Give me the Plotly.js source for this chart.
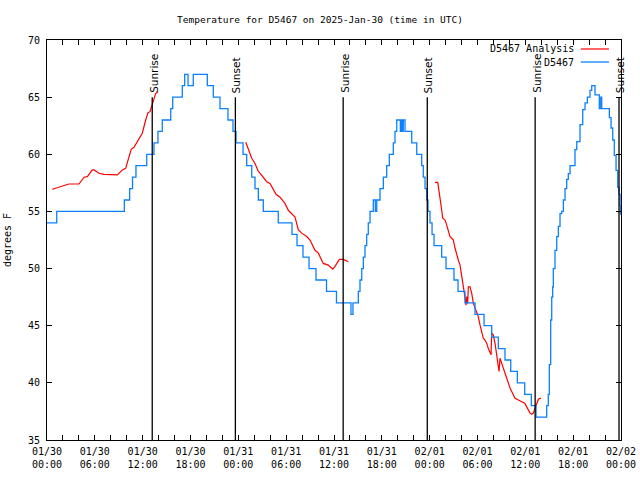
<!DOCTYPE html>
<html>
<head>
<meta charset="utf-8">
<script src="https://cdn.plot.ly/plotly-3.0.1.min.js"></script>
<style>html,body{margin:0;padding:0;background:#fff;}#chart{width:640px;height:480px;}</style>
</head>
<body>
<div id="chart"></div>
<script>
// Hours after 2025-01-30 00:00 UTC
const obsHours = [0,1.22,9.70,10.37,10.73,11.16,12.51,13.42,13.92,14.46,15.52,15.77,16.97,17.27,17.69,18.35,20.11,20.86,21.70,22.70,23.33,23.71,24.59,25.05,25.68,26.09,26.51,27.13,29.01,30.73,31.36,32.11,32.87,33.74,35.06,36.31,38.13,38.38,39.05,39.26,39.48,39.68,39.89,40.10,40.30,40.52,40.93,41.18,41.36,41.77,42.19,42.61,42.94,43.44,43.65,43.87,44.32,44.49,44.62,44.69,44.91,45.75,46.38,47.00,47.20,47.42,47.63,47.79,48.04,48.30,48.55,49.51,50.05,51.05,51.56,52.43,53.69,54.82,55.78,56.61,57.45,58.17,59.00,59.92,60.75,61.34,62.68,62.88,63.01,63.18,63.31,63.43,63.51,63.72,63.94,64.14,64.35,64.56,64.77,64.98,65.19,65.39,65.61,66.23,66.45,66.86,67.20,67.49,67.78,68.11,68.33,68.74,69.28,69.46,69.58,70.54,70.75,70.96,71.16,71.38,71.59,71.75,71.88,71.94];
const obsTemps = [54,55,56,57,58,59,60,61,62,63,64,65,66,67,66,67,66,65,64,63,62,61,60,59,58,57,56,55,54,53,52,51,50,49,48,47,46,47,48,49,50,51,52,53,54,55,56,55,56,57,58,59,60,61,62,63,62,63,62,63,62,61,60,59,58,57,56,55,54,53,52,51,50,49,48,47,46,45,44,43,42,41,40,39,38,37,38,39,41.6,45.5,47.5,48.4,50,51.6,52.8,53.7,54.8,55,56,57,57.8,58.3,59,60.4,61.1,62.6,63.9,64.5,65,65.6,66,65.2,64,65,64,63.2,62.3,61.25,59.9,58.6,57.1,56.5,55.5,54.7];

const anaHours1 = [0.66,1.29,1.72,2.35,2.76,4.01,4.64,5.06,5.68,5.90,6.52,7.15,8.19,8.82,9.45,9.87,10.29,10.57,10.91,11.54,11.95,12.38,12.67,12.92,13.33,13.64,13.92];
const anaTemps1 = [56.94,57.08,57.17,57.31,57.4,57.4,57.99,58.04,58.63,58.63,58.34,58.25,58.19,58.19,58.63,58.77,59.79,60.43,60.61,61.4,61.84,63.0,63.64,63.73,64.75,65.33,65.48];
const anaHours2 = [24.93,25.46,25.68,26.09,26.51,26.72,27.13,27.56,27.97,28.39,28.73,29.23,29.85,30.27,30.70,31.11,31.52,31.95,32.58,32.99,33.62,34.03,34.66,35.29,35.84,36.13,36.67,37.17,37.80];
const anaTemps2 = [61.05,60.1,59.65,59.2,58.5,58.35,58.0,57.6,57.45,56.9,56.5,56.25,55.7,55.1,54.8,54.5,53.4,53.1,52.8,52.5,51.6,51.35,50.45,50.3,49.95,50.2,50.8,50.8,50.6];
const anaHours3 = [48.67,49.01,49.09,49.30,49.51,49.64,49.93,50.14,50.34,50.55,50.77,50.97,51.18,51.39,51.59,51.81,52.02,52.22,52.35,52.56,52.65,52.77,52.85,53.06,53.27,53.48,53.69,53.90,54.10,54.32,54.53,54.73,54.94,55.16,55.36,55.57,55.70,55.78,55.98,56.20,56.32,56.49,56.61,56.70,56.82,57.04,57.24,57.45,57.67,57.87,58.08,58.29,58.49,58.71,59.12,59.55,59.96,60.17,60.37,60.59,60.80,61.00,61.22,61.43,61.63,61.84,61.97];
const anaTemps3 = [57.55,57.55,57.2,56.3,55.1,54.4,54.25,53.8,53.2,52.8,52.65,52.5,51.8,51.2,50.75,50.3,49.45,48.7,47.85,46.8,47.55,46.95,48.4,48.4,47.85,46.95,46.5,46.1,45.8,45.05,44.5,43.9,43.75,43.45,43.0,42.7,42.45,44.35,44.2,43.45,42.9,42.3,41.55,41.0,42.15,41.7,41.1,40.7,40.25,39.95,39.55,39.25,38.95,38.65,38.5,38.35,38.2,37.9,37.6,37.35,37.25,37.35,37.8,38.2,38.55,38.65,38.65];

const sunEventHours = [13.2, 23.63, 37.15, 47.7, 61.23, 71.75];
const sunEventLabels = ["Sunrise","Sunset","Sunrise","Sunset","Sunrise","Sunset"];

const tickLabels = ["01/30<br>00:00","01/30<br>06:00","01/30<br>12:00","01/30<br>18:00","01/31<br>00:00","01/31<br>06:00","01/31<br>12:00","01/31<br>18:00","02/01<br>00:00","02/01<br>06:00","02/01<br>12:00","02/01<br>18:00","02/02<br>00:00"];

const base = Date.UTC(2025, 0, 30, 0, 0, 0);
const H = 3600000;
const toT = h => (h === null ? null : base + h * H);

const anaHours = anaHours1.concat([null], anaHours2, [null], anaHours3);
const anaTemps = anaTemps1.concat([null], anaTemps2, [null], anaTemps3);

const mono = "DejaVu Sans Mono, Liberation Mono, monospace";

const tickvals = [], ticktext = [];
for (let h = 0; h <= 72; h += 2) {
  tickvals.push(toT(h));
  ticktext.push(h % 6 === 0 ? tickLabels[h / 6] : "");
}

const traces = [
  {x: anaHours.map(toT), y: anaTemps, type: "scatter", mode: "lines", name: "D5467 Analysis",
   line: {color: "#ff0000", width: 1.2}, connectgaps: false, showlegend: false},
  {x: obsHours.map(toT), y: obsTemps, type: "scatter", mode: "lines", name: "D5467",
   line: {color: "#0a80ff", width: 1.3, shape: "hv"}, showlegend: false}
];

const shapes = sunEventHours.map(h => ({
  type: "line", xref: "x", yref: "y", x0: toT(h), x1: toT(h), y0: 35, y1: 65,
  line: {color: "#000", width: 1.3}
}));
// legend samples
shapes.push({type: "line", xref: "paper", yref: "paper", x0: 0.930, x1: 0.979, y0: 0.9775, y1: 0.9775, line: {color: "#ff0000", width: 1.2}});
shapes.push({type: "line", xref: "paper", yref: "paper", x0: 0.930, x1: 0.979, y0: 0.945, y1: 0.945, line: {color: "#0a80ff", width: 1.3}});

const annotations = sunEventHours.map((h, i) => ({
  x: toT(h), y: 65, xref: "x", yref: "y", text: sunEventLabels[i], textangle: -90,
  showarrow: false, xanchor: "center", yanchor: "bottom", yshift: 2, xshift: 1,
  font: {family: "DejaVu Sans, sans-serif", size: 10.5, color: "#000"}
}));
annotations.push({x: 0.921, y: 0.9775, xref: "paper", yref: "paper", text: "D5467 Analysis", showarrow: false,
  xanchor: "right", yanchor: "middle", font: {family: mono, size: 10, color: "#000"}});
annotations.push({x: 0.921, y: 0.945, xref: "paper", yref: "paper", text: "D5467", showarrow: false,
  xanchor: "right", yanchor: "middle", font: {family: mono, size: 10, color: "#000"}});

const layout = {
  width: 640, height: 480,
  margin: {l: 47, r: 19, t: 40, b: 40, pad: 0},
  paper_bgcolor: "#fff", plot_bgcolor: "#fff",
  title: {text: "Temperature for D5467 on 2025-Jan-30 (time in UTC)", x: 0.5, xanchor: "center", y: 0.96, yanchor: "middle",
          font: {family: mono, size: 9.5, color: "#000"}},
  font: {family: mono, size: 10, color: "#000"},
  showlegend: false,
  xaxis: {type: "date", range: [toT(0), toT(72)], tickmode: "array", tickvals: tickvals, ticktext: ticktext,
          ticks: "inside", ticklen: 5, tickcolor: "#000", tickwidth: 1, showgrid: false, zeroline: false,
          showline: true, linecolor: "#000", linewidth: 1, mirror: "ticks", ticklabelstandoff: 2,
          tickfont: {family: mono, size: 10, color: "#000"}},
  yaxis: {range: [35, 70], dtick: 5, tick0: 35, ticks: "inside", ticklen: 5, tickcolor: "#000", tickwidth: 1,
          showgrid: false, zeroline: false, showline: true, linecolor: "#000", linewidth: 1, mirror: "ticks",
          ticklabelstandoff: 4,
          tickfont: {family: mono, size: 10, color: "#000"},
          title: {text: "degrees F", standoff: 14, font: {family: mono, size: 10, color: "#000"}}},
  shapes: shapes,
  annotations: annotations
};

Plotly.newPlot("chart", traces, layout, {displayModeBar: false, staticPlot: true});
</script>
</body>
</html>
